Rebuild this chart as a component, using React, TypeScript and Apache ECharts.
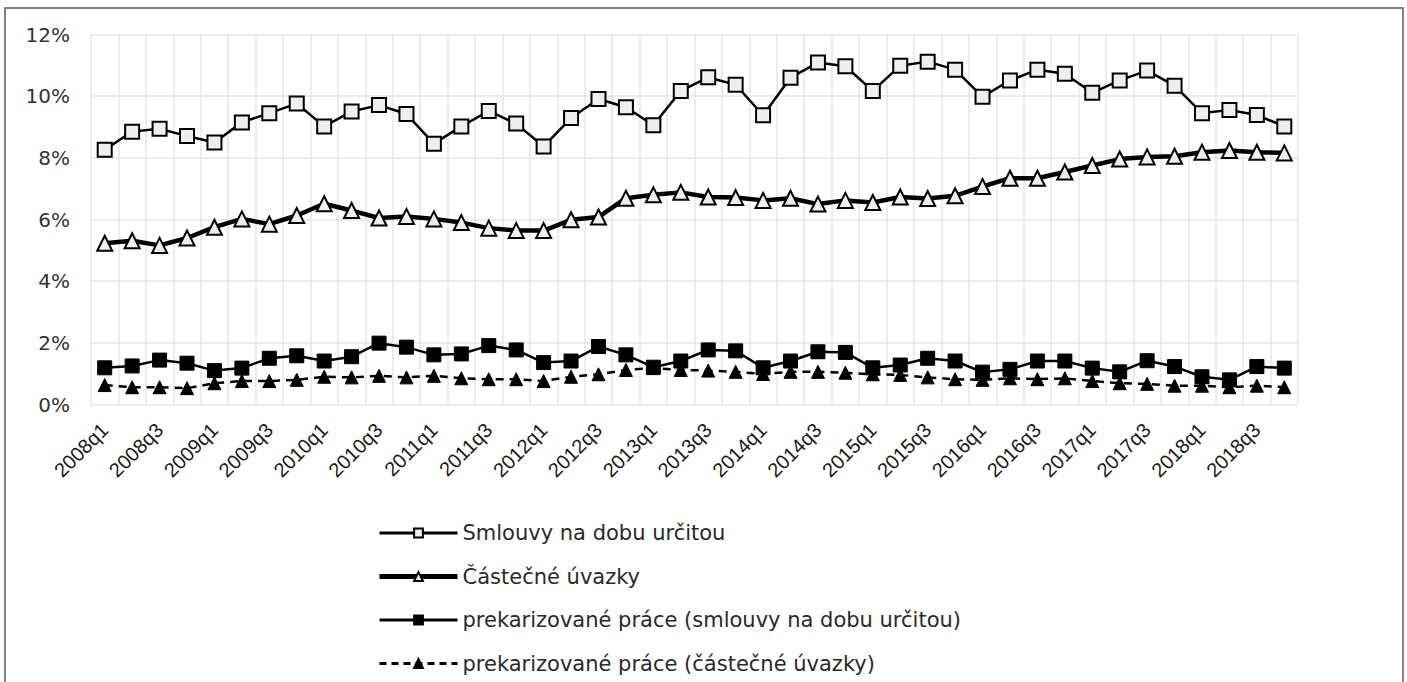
import React, { useEffect, useRef } from "react";
import * as echarts from "echarts";

const categories: string[] = [];
const years = [2008, 2009, 2010, 2011, 2012, 2013, 2014, 2015, 2016, 2017, 2018];
for (const y of years) for (const q of [1, 2, 3, 4]) categories.push(`${y}q${q}`);

const yTicks = ["0%", "2%", "4%", "6%", "8%", "10%", "12%"];

const smlouvy = [
  8.26, 8.85, 8.94, 8.71, 8.5, 9.15, 9.45, 9.76, 9.02, 9.5, 9.71, 9.42, 8.46, 9.02,
  9.52, 9.11, 8.37, 9.29, 9.91, 9.64, 9.06, 10.17, 10.61, 10.37, 9.38, 10.6, 11.09,
  10.97, 10.17, 10.99, 11.12, 10.86, 9.98, 10.51, 10.86, 10.73, 10.11, 10.51, 10.83,
  10.34, 9.45, 9.55, 9.39, 9.02,
];
const castecne = [
  5.23, 5.31, 5.16, 5.4, 5.75, 6.02, 5.85, 6.13, 6.51, 6.29, 6.05, 6.1, 6.02, 5.9,
  5.72, 5.64, 5.64, 5.99, 6.08, 6.69, 6.8, 6.88, 6.73, 6.71, 6.62, 6.69, 6.5, 6.62,
  6.55, 6.73, 6.68, 6.77, 7.07, 7.34, 7.34, 7.54, 7.75, 7.96, 8.03, 8.05, 8.18, 8.24,
  8.18, 8.16,
];
const prekSmlouvy = [
  1.19, 1.25, 1.44, 1.34, 1.1, 1.18, 1.5, 1.58, 1.41, 1.55, 1.99, 1.86, 1.61, 1.64,
  1.91, 1.77, 1.36, 1.41, 1.88, 1.61, 1.21, 1.41, 1.77, 1.74, 1.19, 1.41, 1.71, 1.69,
  1.19, 1.28, 1.5, 1.41, 1.05, 1.14, 1.41, 1.41, 1.18, 1.06, 1.42, 1.23, 0.9, 0.8,
  1.23, 1.18,
];
const prekCastecne = [
  0.63, 0.56, 0.56, 0.53, 0.69, 0.76, 0.76, 0.8, 0.9, 0.88, 0.93, 0.88, 0.93, 0.85,
  0.82, 0.82, 0.76, 0.9, 0.98, 1.12, 1.18, 1.12, 1.1, 1.06, 0.99, 1.06, 1.06, 1.03,
  0.98, 0.96, 0.88, 0.82, 0.8, 0.85, 0.82, 0.85, 0.76, 0.69, 0.67, 0.61, 0.61, 0.56,
  0.61, 0.56,
];

const names = [
  "Smlouvy na dobu určitou",
  "Částečné úvazky",
  "prekarizované práce (smlouvy na dobu určitou)",
  "prekarizované práce (částečné úvazky)",
];

export default function App() {
  const ref = useRef<HTMLDivElement>(null);
  useEffect(() => {
    if (!ref.current) return;
    const chart = echarts.init(ref.current, null, { renderer: "svg" });
    const uiFont = "'DejaVu Sans', 'Noto Sans', sans-serif";
    chart.setOption({
      animation: false,
      backgroundColor: "#ffffff",
      grid: { left: 91, right: 109, top: 34.5, bottom: 277.5, containLabel: false },
      xAxis: {
        type: "category",
        data: categories,
        boundaryGap: true,
        axisLine: { show: false },
        axisTick: { show: false },
        splitLine: { show: true, interval: 0, lineStyle: { color: "#e9e5e3", width: 1.5 } },
        axisLabel: {
          interval: 1,
          rotate: 45,
          margin: 22,
          padding: [25, 0, 0, 0],
          fontFamily: "'Liberation Sans', Arial, sans-serif",
          fontSize: 20,
          color: "#1a1a1a",
        },
      },
      yAxis: {
        type: "value",
        min: 0,
        max: 12,
        interval: 2,
        axisLine: { show: false },
        axisTick: { show: false },
        splitLine: { show: true, lineStyle: { color: "#e9e5e3", width: 1.5 } },
        axisLabel: {
          margin: 21,
          fontFamily: uiFont,
          fontSize: 20,
          color: "#333333",
          formatter: (v: number) => yTicks[Math.round(v / 2)] ?? `${v}%`,
        },
      },
      legend: {
        orient: "vertical",
        left: 372,
        top: 517,
        height: 200,
        itemWidth: 78,
        itemHeight: 11,
        itemGap: 21.5,
        textStyle: { fontFamily: uiFont, fontSize: 21, lineHeight: 22, color: "#2a2a2a" },
        data: [
          { name: names[0], lineStyle: { width: 3 } },
          { name: names[1], lineStyle: { width: 5 } },
          { name: names[2], lineStyle: { width: 3 } },
          { name: names[3], lineStyle: { width: 3, type: [7, 5] } },
        ],
      },
      series: [
        {
          name: names[0],
          type: "line",
          data: smlouvy,
          symbol: "rect",
          symbolSize: 14,
          lineStyle: { color: "#000", width: 2.5 },
          itemStyle: { color: "#eeeeee", borderColor: "#000", borderWidth: 2 },
          z: 4,
        },
        {
          name: names[1],
          type: "line",
          data: castecne,
          symbol: "triangle",
          symbolSize: 15,
          lineStyle: { color: "#000", width: 4.5 },
          itemStyle: { color: "#eeeeee", borderColor: "#000", borderWidth: 2 },
          z: 3,
        },
        {
          name: names[2],
          type: "line",
          data: prekSmlouvy,
          symbol: "rect",
          symbolSize: 14,
          lineStyle: { color: "#000", width: 2.5 },
          itemStyle: { color: "#000", borderColor: "#000", borderWidth: 1 },
          z: 2,
        },
        {
          name: names[3],
          type: "line",
          data: prekCastecne,
          symbol: "triangle",
          symbolSize: 13,
          lineStyle: { color: "#000", width: 2.5, type: [8, 6] },
          itemStyle: { color: "#000", borderColor: "#000", borderWidth: 1 },
          z: 1,
        },
      ],
      graphic: [
        {
          type: "rect",
          shape: { x: 5, y: 8, width: 1398, height: 690 },
          style: { fill: "none", stroke: "#5a5a5a", lineWidth: 1.5 },
          silent: true,
        },
      ],
    });
    return () => chart.dispose();
  }, []);
  return (
    <div
      ref={ref}
      style={{ position: "fixed", left: 0, top: 0, width: 1407, height: 682 }}
    />
  );
}
